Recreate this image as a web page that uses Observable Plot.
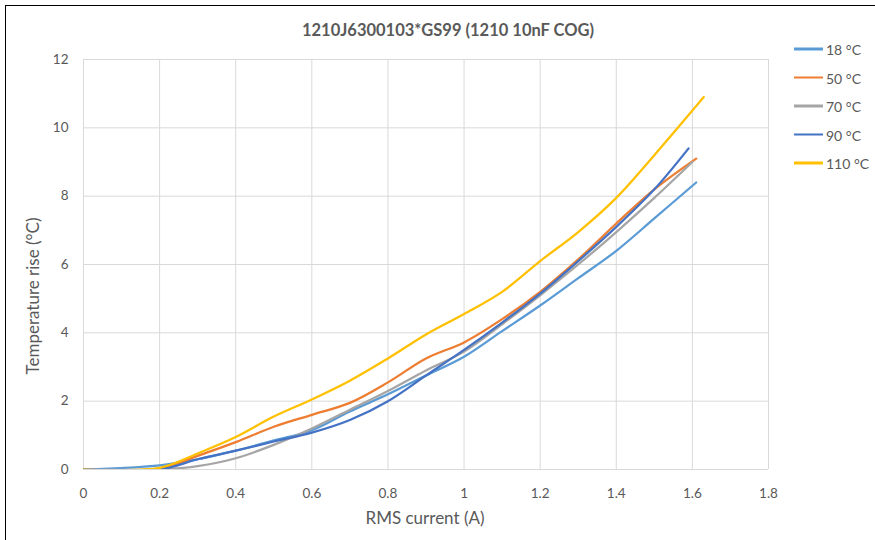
<!DOCTYPE html>
<html><head><meta charset="utf-8">
<script src="https://cdn.jsdelivr.net/npm/d3@7"></script>
<script src="https://cdn.jsdelivr.net/npm/@observablehq/plot@0.6"></script>
<style>
body{margin:0;background:#fff;}
#wrap{position:relative;width:875px;height:540px;font-family:Lato,"Open Sans",sans-serif;color:#595959;overflow:hidden;}
#frame{position:absolute;left:5px;top:5px;width:880px;height:545px;border-top:1px solid #000;border-left:1px solid #000;}
.t{position:absolute;white-space:nowrap;}
#title{left:448px;top:30px;transform:translate(-50%,-50%);font-size:16.5px;font-weight:bold;}
#xt{left:425px;top:517px;transform:translate(-50%,-50%);font-size:17px;}
#yt{left:32px;top:296px;transform:translate(-50%,-50%) rotate(-90deg);font-size:17px;}
#legend{position:absolute;left:794px;top:0;}
.li{position:absolute;left:0;display:flex;align-items:center;font-size:14px;white-space:nowrap;transform:translateY(-50%);}
.li span.sw{display:inline-block;width:29px;height:2.5px;margin-right:3px;}
</style></head>
<body>
<div id="wrap">
  <div id="chart"></div>
  <div id="frame"></div>
  <div class="t" id="title">1210J6300103*GS99 (1210 10nF COG)</div>
  <div class="t" id="xt">RMS current (A)</div>
  <div class="t" id="yt">Temperature rise (°C)</div>
  <div id="legend"></div>
</div>
<script>
const seriesNames = ["18 °C", "50 °C", "70 °C", "90 °C", "110 °C"];
const seriesColors = ["#5B9BD5", "#ED7D31", "#A5A5A5", "#4472C4", "#FFC000"];
const current = [0, 0.2, 0.3, 0.4, 0.5, 0.6, 0.7, 0.8, 0.9, 1.0, 1.1, 1.2, 1.3, 1.4, 1.5];
const lastCurrent = [1.61, 1.61, 1.6, 1.59, 1.63];
const rise18  = [0, 0.12, 0.3, 0.55, 0.85, 1.15, 1.7, 2.2, 2.75, 3.3, 4.05, 4.8, 5.6, 6.4, 7.35, 8.4];
const rise50  = [0, 0.03, 0.4, 0.8, 1.25, 1.6, 1.95, 2.55, 3.25, 3.72, 4.4, 5.2, 6.15, 7.2, 8.2, 9.1];
const rise70  = [0, 0, 0.1, 0.33, 0.72, 1.2, 1.75, 2.3, 2.9, 3.45, 4.25, 5.1, 6.0, 6.95, 7.95, 9.0];
const rise90  = [0, 0, 0.3, 0.55, 0.82, 1.08, 1.45, 2.0, 2.75, 3.5, 4.3, 5.15, 6.1, 7.1, 8.2, 9.4];
const rise110 = [0, 0.05, 0.47, 0.95, 1.55, 2.05, 2.6, 3.25, 3.95, 4.55, 5.2, 6.1, 6.95, 7.95, 9.2, 10.9];
const rises = [rise18, rise50, rise70, rise90, rise110];
const xTicks = [0, 0.2, 0.4, 0.6, 0.8, 1, 1.2, 1.4, 1.6, 1.8];
const yTicks = [0, 2, 4, 6, 8, 10, 12];

const data = [];
seriesNames.forEach((s, i) => {
  const xs = current.concat([lastCurrent[i]]);
  xs.forEach((x, j) => data.push({series: s, x, y: rises[i][j]}));
});

const chart = Plot.plot({
  width: 875, height: 540,
  marginLeft: 83, marginRight: 107, marginTop: 59, marginBottom: 71,
  style: {fontFamily: "Lato, 'Open Sans', sans-serif", fontSize: "13.5px", color: "#595959", background: "transparent"},
  x: {domain: [0, 1.8]},
  y: {domain: [0, 12]},
  color: {domain: seriesNames, range: seriesColors},
  marks: [
    Plot.gridX(xTicks, {stroke: "#d9d9d9", strokeOpacity: 1, strokeWidth: 1}),
    Plot.gridY(yTicks, {stroke: "#d9d9d9", strokeOpacity: 1, strokeWidth: 1}),
    Plot.axisX({ticks: xTicks, tickSize: 0, tickPadding: 19, label: null, fill: "#595959", tickFormat: d => String(d)}),
    Plot.axisY({ticks: yTicks, tickSize: 0, tickPadding: 15, label: null, fill: "#595959"}),
    Plot.line(data, {x: "x", y: "y", z: "series", stroke: "series", strokeWidth: 2.25, curve: "catmull-rom", clip: true})
  ]
});
document.getElementById("chart").appendChild(chart);

const legend = document.getElementById("legend");
const legendY = [49, 77.5, 106, 134.5, 163];
seriesNames.forEach((s, i) => {
  const d = document.createElement("div");
  d.className = "li";
  d.style.top = legendY[i] + "px";
  d.innerHTML = `<span class="sw" style="background:${seriesColors[i]}"></span>${s}`;
  legend.appendChild(d);
});
</script>
</body></html>
